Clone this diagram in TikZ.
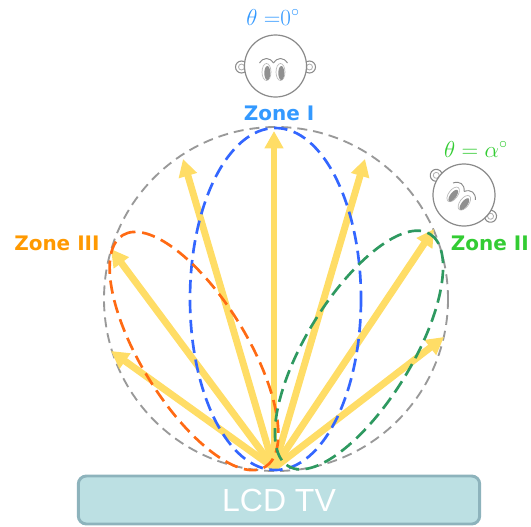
\documentclass[tikz,border=0pt]{standalone}
\usepackage{fontspec}
\usetikzlibrary{arrows.meta}
\newfontfamily\zonefont{DejaVu Sans}
\newfontfamily\tvfont{Liberation Sans}
\definecolor{raygold}{HTML}{FFDD66}
\definecolor{zoneblue}{HTML}{3366FF}
\definecolor{zoneorange}{HTML}{FF6A13}
\definecolor{zonegreen}{HTML}{2E9960}
\definecolor{ringgray}{HTML}{999999}
\definecolor{labelblue}{HTML}{3399FF}
\definecolor{labelgreen}{HTML}{33CC33}
\definecolor{labelorange}{HTML}{FF9900}
\definecolor{tvfill}{HTML}{BCE0E3}
\definecolor{tvedge}{HTML}{8DB3BC}
\definecolor{facegray}{HTML}{8A8A8A}
\begin{document}
\begin{tikzpicture}[x=0.75pt,y=-0.75pt,
  ray/.style={raygold, line width=5.2pt, -{Triangle[length=13pt,width=13.5pt]}},
  zoneline/.style={line width=2pt, dash pattern=on 10pt off 5pt},
  ring/.style={ringgray, line width=1.4pt, dash pattern=on 7.5pt off 4.5pt},
  zonelabel/.style={font=\zonefont\bfseries\fontsize{15}{18}\selectfont, inner sep=0pt},
  anglelabel/.style={font=\fontsize{18.5}{22}\selectfont, inner sep=0pt},
  tvbox/.style={draw=tvedge, fill=tvfill, line width=2.2pt, rounded corners=6pt,
    minimum width=301pt, minimum height=36pt, text=white,
    font=\tvfont\fontsize{24}{28}\selectfont},
  headface/.pic={
    % ears
    \foreach \s in {-1,1} {
      \draw[facegray, line width=0.8pt, fill=white] (\s*34,1) circle [radius=6];
      \draw[facegray!70, line width=0.6pt] (\s*34,1) circle [radius=3];
    }
    % head
    \draw[facegray, line width=0.9pt, fill=white] (0,0) circle [radius=31];
    % eyes and brows
    \foreach \ex in {-9,5} {
      \draw[facegray!60, line width=0.5pt, fill=white] (\ex,6) ellipse [x radius=4.5, y radius=8.5];
      \fill[facegray!95] (\ex+0.8,7) ellipse [x radius=3, y radius=7];
      \draw[facegray, line width=0.7pt] (\ex-7,-3) .. controls (\ex-3,-9) and (\ex+3,-9) .. (\ex+7,-3);
    }
  }
]
\useasboundingbox (0,0) rectangle (531,526);

% viewing zone outline
\draw[ring] (276,299) circle [radius=172];

% light rays leaving the panel
\coordinate (src) at (274,468);
\coordinate (r1) at (111,351);
\coordinate (r2) at (111,249);
\coordinate (r3) at (183,159);
\coordinate (r4) at (274,131);
\coordinate (r5) at (365,159);
\coordinate (r6) at (434,229);
\coordinate (r7) at (444,337);
\foreach \r in {r1,r2,r3,r4,r5,r6,r7} \draw[ray] (src) -- (\r);

% zone lobes
\draw[zoneline, zoneblue] (275.5,299) ellipse [x radius=85.5, y radius=171];
\draw[zoneline, zoneorange, rotate around={121.6:(194,351)}] (194,351) ellipse [x radius=136, y radius=53];
\draw[zoneline, zonegreen, rotate around={58.6:(359,350)}] (359,350) ellipse [x radius=136, y radius=53];

% display
\node[tvbox] (tv) at (279,500) {LCD TV};

% labels
\node[zonelabel, labelblue] (zone1) at (279,113) {Zone I};
\node[zonelabel, labelgreen, anchor=east] (zone2) at (529,243) {Zone II};
\node[zonelabel, labelorange, anchor=west] (zone3) at (14,243) {Zone III};
\node[anglelabel, labelblue] (angle0) at (273,17) {$\theta\;{=}0^\circ$};
\node[anglelabel, labelgreen] (anglea) at (476,149) {$\theta = \alpha^\circ$};

% viewers
\pic at (275.5,66) {headface};
\pic[rotate=-37] at (464,195) {headface};
\end{tikzpicture}
\end{document}
